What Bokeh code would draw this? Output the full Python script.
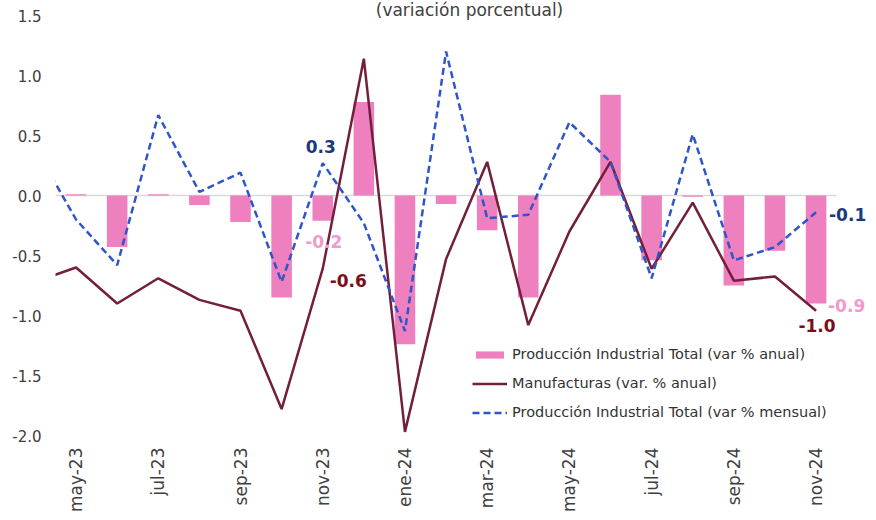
import math
from bokeh.plotting import figure
from bokeh.models import (ColumnDataSource, Range1d, Label, Legend, LegendItem,
                          FixedTicker, NumeralTickFormatter)
from bokeh.embed import file_html
from bokeh.resources import INLINE

# ---- data ----
months = ["abr-23", "may-23", "jun-23", "jul-23", "ago-23", "sep-23", "oct-23", "nov-23",
          "dic-23", "ene-24", "feb-24", "mar-24", "abr-24", "may-24", "jun-24", "jul-24",
          "ago-24", "sep-24", "oct-24", "nov-24"]
prod_anual = [float("nan"), 0.01, -0.43, 0.01, -0.08, -0.22, -0.85, -0.21, 0.78, -1.24,
              -0.07, -0.29, -0.85, 0.0, 0.84, -0.54, -0.01, -0.75, -0.46, -0.90]
manufacturas = [-0.72, -0.60, -0.90, -0.69, -0.87, -0.96, -1.78, -0.61, 1.14, -1.97,
                -0.53, 0.28, -1.08, -0.30, 0.28, -0.61, -0.06, -0.71, -0.675, -0.96]
prod_mensual = [0.40, -0.20, -0.58, 0.67, 0.03, 0.19, -0.72, 0.27, -0.23, -1.13,
                1.20, -0.19, -0.16, 0.61, 0.28, -0.69, 0.51, -0.54, -0.43, -0.14]
y_ticks = [-2.0, -1.5, -1.0, -0.5, 0.0, 0.5, 1.0, 1.5]
title_text = "(variación porcentual)"
legend_labels = ["Producción Industrial Total (var % anual)",
                 "Manufacturas (var. % anual)",
                 "Producción Industrial Total (var % mensual)"]

PINK = "#EF80BF"
MAROON = "#72203A"
BLUE = "#2F55C8"
NAVY = "#1C3A78"
DARKRED = "#7A0E1A"
LPINK = "#F09BCB"
FONT = "DejaVu Sans"
TXT = "#404040"

xs = list(range(len(months)))
src = ColumnDataSource(dict(x=xs, bar=prod_anual, manuf=manufacturas, mens=prod_mensual))

# frame: 55px left, runs to the top edge (room for the subtitle), 435px tall
p = figure(width=876, height=520, x_range=Range1d(0.5, 20.47),
           y_range=Range1d(-2.0, 1.625), output_backend="svg", toolbar_location=None,
           min_border_left=55, min_border_right=0, min_border_top=0, min_border_bottom=85)
p.outline_line_color = None
p.xgrid.visible = False
p.ygrid.visible = False
p.background_fill_color = "white"

# zero axis line over the category span only
p.segment(x0=[xs[1] - 0.5], x1=[xs[-1] + 0.5], y0=[0], y1=[0],
          line_color="#D9D9D9", line_width=1.5)

r_bar = p.vbar(x="x", top="bar", width=0.5, source=src, fill_color=PINK, line_color=None)
r_man = p.line("x", "manuf", source=src, line_color=MAROON, line_width=2.5)
r_men = p.line("x", "mens", source=src, line_color=BLUE, line_width=2.5, line_dash="7 4")

# axes
p.yaxis.ticker = FixedTicker(ticks=y_ticks)
p.yaxis.formatter = NumeralTickFormatter(format="0.0")
p.xaxis.ticker = FixedTicker(ticks=xs[1::2])
p.xaxis.major_label_overrides = {i: months[i] for i in xs}
p.xaxis.major_label_orientation = math.pi / 2
for ax in (p.xaxis, p.yaxis):
    ax.axis_line_color = None
    ax.major_tick_line_color = None
    ax.minor_tick_line_color = None
    ax.major_tick_out = 0
    ax.major_tick_in = 0
    ax.major_label_text_font = FONT
    ax.major_label_text_color = TXT
p.yaxis.major_label_text_font_size = "15px"
p.yaxis.major_label_standoff = 14
p.xaxis.major_label_text_font_size = "17px"
p.xaxis.major_label_standoff = 12

legend = Legend(items=[LegendItem(label=legend_labels[0], renderers=[r_bar]),
                       LegendItem(label=legend_labels[1], renderers=[r_man]),
                       LegendItem(label=legend_labels[2], renderers=[r_men])],
                location=(417, 13), glyph_width=35, glyph_height=9, label_height=20,
                spacing=9, padding=0, margin=0, label_standoff=5,
                border_line_alpha=0, background_fill_alpha=0,
                label_text_font=FONT, label_text_font_size="14.5px", label_text_color="#333333")
p.add_layout(legend)

# data labels
n7, nl = 7, len(months) - 1
def lab(x, y, v, color, align, base, xo, yo):
    p.add_layout(Label(x=x, y=y, text=f"{v:.1f}", text_color=color, text_font=FONT,
                       text_font_size="17px", text_font_style="bold", text_align=align,
                       text_baseline=base, x_offset=xo, y_offset=yo))
lab(n7, prod_mensual[n7], prod_mensual[n7], NAVY, "center", "bottom", -2, 10)
lab(n7, prod_anual[n7], prod_anual[n7], LPINK, "center", "top", 1, -14)
lab(n7, manufacturas[n7], manufacturas[n7], DARKRED, "left", "middle", 7, -12)
lab(nl, prod_mensual[nl], prod_mensual[nl], NAVY, "left", "middle", 13, -2)
lab(nl, prod_anual[nl], prod_anual[nl], LPINK, "left", "middle", 12, -2)
lab(nl, manufacturas[nl], manufacturas[nl], DARKRED, "center", "top", 1, -8)

# subtitle at the very top
p.add_layout(Label(x=414, y=426, x_units="screen", y_units="screen", text=title_text,
                   text_font=FONT, text_font_size="17px", text_color=TXT,
                   text_align="center", text_baseline="alphabetic"))

open("out.html", "w").write(file_html(p, INLINE))
